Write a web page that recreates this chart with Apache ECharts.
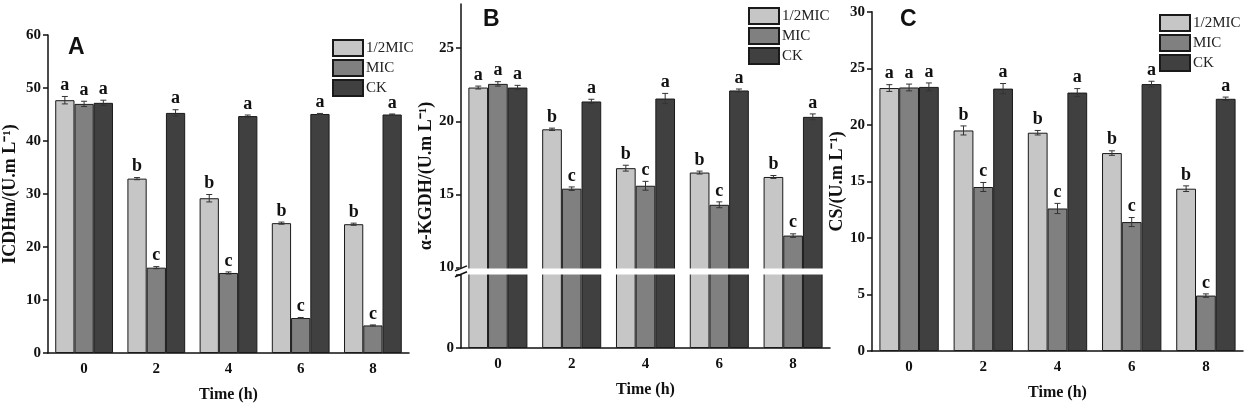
<!DOCTYPE html>
<html>
<head>
<meta charset="utf-8">
<script src="https://cdn.jsdelivr.net/npm/echarts@6/dist/echarts.min.js"></script>
<style>
  html, body { margin: 0; padding: 0; background: #fff; }
  #main { width: 1248px; height: 408px; }
</style>
</head>
<body>
<div id="main"></div>
<script>
// data
const times = ["0", "2", "4", "6", "8"];
const groups = ["1/2MIC", "MIC", "CK"];

const icdHalf = [47.7, 32.9, 29.2, 24.5, 24.3];
const icdMic = [47.0, 16.1, 15.1, 6.6, 5.2];
const icdCk = [47.2, 45.3, 44.7, 45.1, 45.0];
const icdHalfErr = [0.7, 0.2, 0.7, 0.2, 0.2];
const icdMicErr = [0.5, 0.2, 0.2, 0.1, 0.1];
const icdCkErr = [0.5, 0.6, 0.2, 0.1, 0.1];

const kgHalf = [22.3, 19.45, 16.8, 16.5, 16.2];
const kgMic = [22.55, 15.4, 15.6, 14.3, 12.2];
const kgCk = [22.3, 21.35, 21.55, 22.1, 20.3];
const kgHalfErr = [0.1, 0.08, 0.2, 0.1, 0.1];
const kgMicErr = [0.15, 0.12, 0.3, 0.2, 0.12];
const kgCkErr = [0.15, 0.15, 0.35, 0.1, 0.2];

const csHalf = [23.25, 19.5, 19.3, 17.5, 14.35];
const csMic = [23.3, 14.5, 12.6, 11.4, 4.9];
const csCk = [23.35, 23.2, 22.85, 23.6, 22.3];
const csHalfErr = [0.3, 0.4, 0.2, 0.2, 0.25];
const csMicErr = [0.3, 0.4, 0.45, 0.4, 0.15];
const csCkErr = [0.35, 0.45, 0.35, 0.25, 0.15];

const lettersHalf = ["a", "b", "b", "b", "b"];
const lettersMic = ["a", "c", "c", "c", "c"];
const lettersCk = ["a", "a", "a", "a", "a"];

const colors = ["#c6c6c6", "#808080", "#404040"];
const serif = "Liberation Serif";
const catGap = 0.2;

const panels = [
  { vals: [icdHalf, icdMic, icdCk], errs: [icdHalfErr, icdMicErr, icdCkErr],
    grid: { left: 46, top: 35, width: 363, height: 320 },
    yName: "ICDHm/(U.m L⁻¹)", max: 60, interval: 10, nameGap: 29 },
  { vals: [kgHalf, kgMic, kgCk], errs: [kgHalfErr, kgMicErr, kgCkErr],
    grid: { left: 461, top: 4, width: 369, height: 344 },
    yName: "α-KGDH/(U.m L⁻¹)", max: 28, interval: 5, nameGap: 24, brk: true },
  { vals: [csHalf, csMic, csCk], errs: [csHalfErr, csMicErr, csCkErr],
    grid: { left: 872, top: 11.7, width: 371, height: 339.3 },
    yName: "CS/(U.m L⁻¹)", max: 30, interval: 5, nameGap: 26 }
];
const letters = [lettersHalf, lettersMic, lettersCk];

const grids = [], xAxes = [], yAxes = [], series = [];
panels.forEach((p, pi) => {
  grids.push(p.grid);
  xAxes.push({
    type: "category", gridIndex: pi, data: times,
    name: "Time (h)", nameLocation: "middle", nameGap: 34,
    nameTextStyle: { fontFamily: serif, fontWeight: "bold", fontSize: 16, color: "#111" },
    axisLine: { lineStyle: { color: "#111", width: 1.5 } },
    axisTick: { show: false },
    axisLabel: { fontFamily: serif, fontWeight: "bold", fontSize: 15, color: "#111", margin: 9 }
  });
  const y = {
    type: "value", gridIndex: pi, min: 0, max: p.max, interval: p.interval,
    name: p.yName, nameLocation: "middle", nameGap: p.nameGap,
    nameTextStyle: { fontFamily: serif, fontWeight: "bold", fontSize: 18, color: "#111" },
    axisLine: { show: true, lineStyle: { color: "#111", width: 1.5 } },
    axisTick: { show: true, inside: false, length: 5, lineStyle: { color: "#111", width: 1.5 } },
    axisLabel: { fontFamily: serif, fontWeight: "bold", fontSize: 15, color: "#111", margin: 7,
      showMaxLabel: p.max % p.interval === 0 },
    splitLine: { show: false }
  };
  if (p.brk) {
    y.breaks = [{ start: 5, end: 10, gap: "2%" }];
    y.breakArea = {
      show: true, expandOnClick: false, zigzagAmplitude: 0, zigzagZ: 100,
      itemStyle: { color: "#fff", borderColor: "#fff", borderWidth: 0, opacity: 1 }
    };
    y.axisLabel.formatter = v => (v === 5 ? "" : v);
  }
  yAxes.push(y);

  groups.forEach((g, si) => {
    series.push({
      name: g, type: "bar", xAxisIndex: pi, yAxisIndex: pi,
      data: p.vals[si], barGap: "0%", barCategoryGap: catGap * 100 + "%",
      itemStyle: { color: colors[si], borderColor: "#1a1a1a", borderWidth: 1 }
    });
  });

  // error bars and significance letters
  const eb = [];
  groups.forEach((g, si) => {
    p.vals[si].forEach((v, ci) => eb.push([ci, si, v, p.errs[si][ci]]));
  });
  series.push({
    type: "custom", xAxisIndex: pi, yAxisIndex: pi, z: 5, data: eb,
    renderItem: (params, api) => {
      const ci = api.value(0), si = api.value(1), v = api.value(2), e = api.value(3);
      const band = api.size([1, 0])[0];
      const bw = band * (1 - catGap) / 3;
      const x = api.coord([ci, v])[0] + (si - 1) * bw;
      const yt = api.coord([ci, v + e])[1];
      const yb = api.coord([ci, v - e])[1];
      const st = { stroke: "#333", lineWidth: 1 };
      return {
        type: "group",
        children: [
          { type: "line", shape: { x1: x, y1: yt, x2: x, y2: yb }, style: st },
          { type: "line", shape: { x1: x - 3, y1: yt, x2: x + 3, y2: yt }, style: st },
          { type: "line", shape: { x1: x - 3, y1: yb, x2: x + 3, y2: yb }, style: st },
          { type: "text", style: {
              x: x, y: yt - 2, text: letters[si][ci], align: "center", verticalAlign: "bottom",
              font: "bold 18px '" + serif + "'", fill: "#111" } }
        ]
      };
    }
  });
});

const legendBase = {
  orient: "vertical", data: groups, icon: "rect", itemWidth: 30, itemHeight: 16, itemGap: 2,
  padding: 0,
  textStyle: { fontFamily: serif, fontSize: 15, color: "#222", padding: [0, 0, 0, -2] },
  selectedMode: false
};
const legends = [
  Object.assign({}, legendBase, { left: 332, top: 39 }),
  Object.assign({}, legendBase, { left: 748, top: 7 }),
  Object.assign({}, legendBase, { left: 1159, top: 14 })
];

const titleStyle = { fontFamily: "Liberation Sans", fontWeight: "bold", fontSize: 23, color: "#111" };
const titles = [
  { text: "A", left: 63, top: 31, textStyle: titleStyle },
  { text: "B", left: 478, top: 3, textStyle: titleStyle },
  { text: "C", left: 895, top: 3, textStyle: titleStyle }
];

const myChart = echarts.init(document.getElementById("main"));
myChart.setOption({
  animation: false,
  title: titles,
  legend: legends,
  grid: grids,
  xAxis: xAxes,
  yAxis: yAxes,
  series: series
});

// break marks on the panel B axis line
const gx = panels[1].grid.left;
const yHi = myChart.convertToPixel({ yAxisIndex: 1 }, 10);
const yLo = myChart.convertToPixel({ yAxisIndex: 1 }, 5);
const mark = { stroke: "#111", lineWidth: 1.5 };
myChart.setOption({
  graphic: [
    { type: "rect", shape: { x: gx - 2, y: yHi, width: 4, height: yLo - yHi }, style: { fill: "#fff" }, z: 200 },
    { type: "line", shape: { x1: gx - 6, y1: yHi + 3, x2: gx + 6, y2: yHi - 2 }, style: mark, z: 201 },
    { type: "line", shape: { x1: gx - 6, y1: yLo + 2, x2: gx + 6, y2: yLo - 3 }, style: mark, z: 201 }
  ]
});
</script>
</body>
</html>
